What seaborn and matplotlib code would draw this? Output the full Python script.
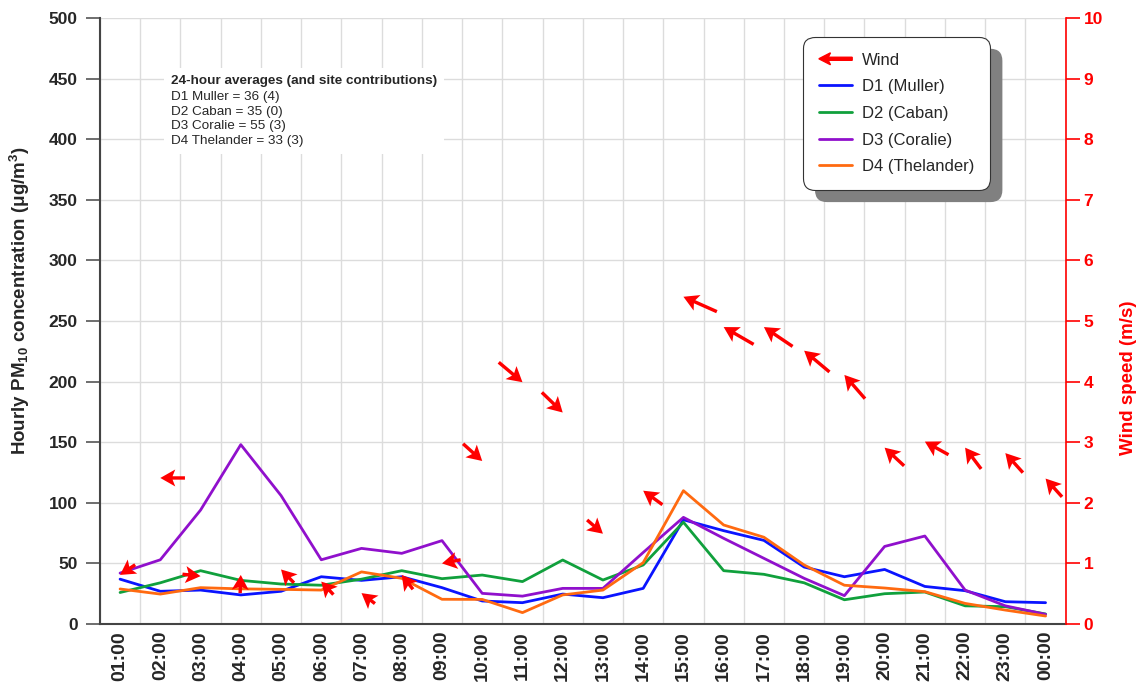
import numpy as np
import pandas as pd
import seaborn as sns
import matplotlib.pyplot as plt
from matplotlib.legend_handler import HandlerBase
from matplotlib.patches import FancyArrow, FancyBboxPatch
from matplotlib.lines import Line2D
from matplotlib.offsetbox import TextArea, VPacker, AnchoredOffsetbox
from matplotlib.transforms import IdentityTransform

# data
hours = ["01:00", "02:00", "03:00", "04:00", "05:00", "06:00", "07:00", "08:00",
         "09:00", "10:00", "11:00", "12:00", "13:00", "14:00", "15:00", "16:00",
         "17:00", "18:00", "19:00", "20:00", "21:00", "22:00", "23:00", "00:00"]

muller = [37, 27, 28, 24, 27, 39, 36, 39, 30, 19, 17.6, 24.7,
          21.7, 29.4, 86, 77, 69, 47, 39, 45, 31, 27.5, 18.4, 17.6]
caban = [26, 34, 44, 36, 33, 32, 37, 44, 37.4, 40.4, 35, 52.8,
         36.3, 48.7, 84, 44, 41, 34, 20, 25, 26.4, 15, 14.3, 8.3]
coralie = [42, 53, 94, 148, 106, 53, 62.4, 58.3, 68.8, 25.3, 23, 29.4,
           29.4, 59, 88, 70.7, 54.2, 37.7, 23.4, 64, 72.6, 28, 15, 8]
thelander = [28.9, 24.7, 30, 29, 28.6, 28, 43, 37.7, 20.4, 20.3, 9.4, 24,
             28, 50.6, 110, 81.7, 71.6, 48.7, 32, 29.7, 26.7, 17, 11.5, 6.6]

# wind speed (m/s) and direction the wind comes from (deg, clockwise from north)
wind_speed = [0.81, 2.41, 0.79, 0.81, 0.9, 0.7, 0.51, 0.81, 1.0, 2.69, 3.99, 3.49,
              1.49, 2.2, 5.4, 4.9, 4.9, 4.51, 4.11, 2.91, 3.01, 2.91, 2.82, 2.4]
wind_from = [56, 90, 276, 182, 136, 137, 128, 142, 79, 312, 310, 314,
             311, 126, 114, 120, 124, 130, 139, 133, 119, 143, 138, 138]

sites = ["D1 (Muller)", "D2 (Caban)", "D3 (Coralie)", "D4 (Thelander)"]
site_colors = ["#0a14ff", "#10a03c", "#9010cc", "#ff6a10"]
avg_title = "24-hour averages (and site contributions)"
avg_lines = ["D1 Muller = 36 (4)", "D2 Caban = 35 (0)",
             "D3 Coralie = 55 (3)", "D4 Thelander = 33 (3)"]

df = pd.DataFrame({"hour": hours, sites[0]: muller, sites[1]: caban,
                   sites[2]: coralie, sites[3]: thelander})
long_df = df.melt(id_vars="hour", var_name="site", value_name="pm10")

sns.set_style("whitegrid")
plt.rcParams["font.family"] = ["Liberation Sans", "DejaVu Sans"]
plt.rcParams["mathtext.fontset"] = "custom"
plt.rcParams["mathtext.rm"] = "Liberation Sans:bold"
plt.rcParams["mathtext.it"] = "Liberation Sans:bold"
plt.rcParams["mathtext.default"] = "rm"

fig, ax = plt.subplots(figsize=(11.41, 6.84), dpi=100)
fig.subplots_adjust(left=0.0876, right=0.934, top=0.9737, bottom=0.0877)

sns.lineplot(data=long_df, x="hour", y="pm10", hue="site", palette=site_colors,
             linewidth=2, sort=False, legend=False, ax=ax)

grid_col = "#dcdcdc"
ax.set_xlim(-0.5, len(hours) - 0.5)
ax.set_ylim(0, 500)
ax.set_yticks(range(0, 501, 50))
ax.set_xticks(range(len(hours)))
ax.set_xticklabels(hours, rotation=90, fontweight="bold", fontsize=14)
ax.set_xticks(np.arange(-0.5, len(hours), 1), minor=True)
ax.grid(False)
ax.yaxis.grid(True, color=grid_col, lw=1)
ax.xaxis.grid(True, which="minor", color=grid_col, lw=1)
ax.tick_params(axis="x", which="both", length=0, pad=5)
ax.tick_params(axis="y", length=10, width=1.2, color="#555555", pad=6, labelsize=12.5)
for lbl in ax.get_yticklabels():
    lbl.set_fontweight("bold")
ax.set_xlabel("")
ax.set_ylabel("Hourly PM$_{10}$ concentration ($\\mu$g/m$^3$)",
              fontweight="bold", fontsize=13.5, labelpad=12)
ax.yaxis.label.set_horizontalalignment("left")
ax.yaxis.label.set_y(0.279)
for side in ["left", "bottom"]:
    ax.spines[side].set_color("#444444")
    ax.spines[side].set_linewidth(1.5)
ax.spines["top"].set_visible(False)
ax.spines["right"].set_visible(False)

# wind arrows on the right axis
ax2 = ax.twinx()
ax2.set_ylim(0, 10)
ax2.set_yticks(range(0, 11))
ax2.grid(False)
spd = np.array(wind_speed)
toward = np.radians(np.array(wind_from) + 180)
arrow_len = 15 + 4 * spd
ax2.quiver(np.arange(len(hours)), spd, arrow_len * np.sin(toward), arrow_len * np.cos(toward),
           pivot="tip", angles="uv", scale_units="dots", scale=1, units="dots",
           width=3.4, headwidth=5.0, headlength=4.4, headaxislength=3.6,
           minshaft=0.5, color="red", zorder=3)
ax2.tick_params(axis="y", length=10, width=1.2, color="red", labelcolor="red",
                pad=3, labelsize=12.5)
for lbl in ax2.get_yticklabels():
    lbl.set_fontweight("bold")
ax2.set_ylabel("Wind speed (m/s)", color="red", fontweight="bold", fontsize=13.5, labelpad=12)
ax2.yaxis.label.set_horizontalalignment("left")
ax2.yaxis.label.set_y(0.279)
for side in ["left", "top", "bottom"]:
    ax2.spines[side].set_visible(False)
ax2.spines["right"].set_color("red")
ax2.spines["right"].set_linewidth(1.2)

# averages box
header = TextArea(avg_title, textprops=dict(fontsize=9.7, fontweight="bold"))
body = TextArea("\n".join(avg_lines), textprops=dict(fontsize=9.7, linespacing=1.3))
pack = VPacker(children=[header, body], align="left", pad=0, sep=3)
box = AnchoredOffsetbox(loc="upper left", child=pack, pad=0.5, borderpad=0, frameon=True,
                        bbox_to_anchor=(0.066, 0.9175), bbox_transform=ax.transAxes)
box.patch.set_edgecolor("none")
box.patch.set_facecolor("white")
ax2.add_artist(box)


class WindKey:
    pass


class ArrowHandler(HandlerBase):
    def create_artists(self, legend, orig_handle, xdescent, ydescent, width, height, fontsize, trans):
        y = height / 2 - ydescent
        arr = FancyArrow(width - xdescent, y, -width, 0, width=2.2, head_width=8.6,
                         head_length=8.4, length_includes_head=True, overhang=0.2,
                         color="red", transform=trans)
        return [arr]


handles = [WindKey()] + [Line2D([], [], color=c, lw=2) for c in site_colors]
leg = ax2.legend(handles=handles, labels=["Wind"] + sites, handler_map={WindKey: ArrowHandler()},
                 loc="upper left", bbox_to_anchor=(0.728, 0.969), borderaxespad=0,
                 fontsize=12, frameon=True, fancybox=True, framealpha=1, edgecolor="#333333",
                 borderpad=0.95, labelspacing=0.7, handlelength=2.0, handletextpad=0.6)
leg.get_frame().set_linewidth(0.8)
leg.get_frame().set_boxstyle("round", pad=0, rounding_size=0.7)

fig.canvas.draw()
bb = leg.get_window_extent()
shadow = FancyBboxPatch((bb.x0 + 12, bb.y0 - 12), bb.width, bb.height,
                        boxstyle="round,pad=0,rounding_size=12", transform=IdentityTransform(),
                        facecolor="#808080", edgecolor="none", zorder=leg.get_zorder() - 0.1,
                        clip_on=False)
ax2.add_artist(shadow)

fig.savefig("out.png", dpi=100)
